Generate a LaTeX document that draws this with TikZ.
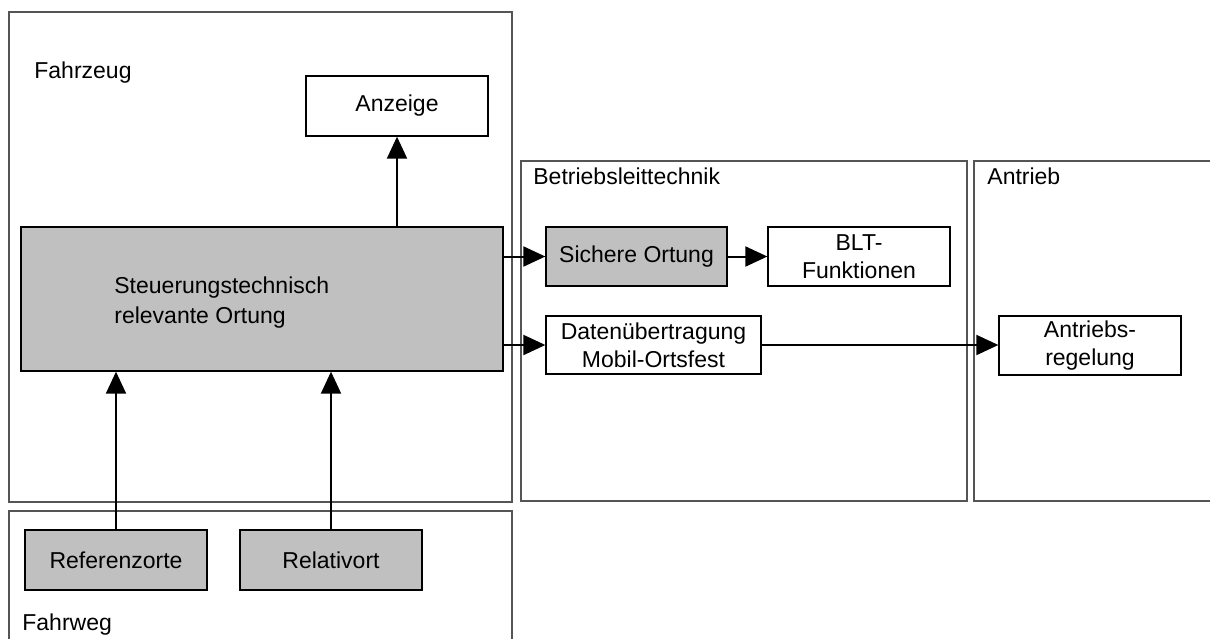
\documentclass[tikz,border=0pt]{standalone}
\usepackage{fontspec}
\setmainfont{Liberation Sans}
\usetikzlibrary{arrows.meta,positioning}
\definecolor{OrtGray}{RGB}{192,192,192}
\definecolor{FrameGray}{RGB}{85,85,85}

\begin{document}
\begin{tikzpicture}[
x=0.5pt,y=-0.5pt,
Areas/.style={draw=FrameGray,line width=0.75pt},
Blocks/.style={draw=black,line width=0.65pt,minimum width=91pt,minimum height=29.5pt,align=center,inner sep=0pt},
GrayBlocks/.style={Blocks,fill=OrtGray},
Flows/.style={-{Triangle[length=11pt,width=10pt]},line width=1pt},
AreaLabels/.style={anchor=base west,inner sep=0pt},
every node/.style={font=\fontsize{11.5}{14}\selectfont}
]
\useasboundingbox (0,0) rectangle (1210,638);
\clip (0,0) rectangle (1210,638);

% areas
\draw[Areas] (9,12) rectangle (512,502);
\draw[Areas] (9,511) rectangle (512,700);
\draw[Areas] (521,161) rectangle (967,501);
\draw[Areas] (974,161) rectangle (1260,501);

\node[AreaLabels] (fahrzeug) at (34,78) {Fahrzeug};
\node[AreaLabels] (fahrweg) at (22,630) {Fahrweg};
\node[AreaLabels] (blt) at (533,184) {Betriebsleittechnik};
\node[AreaLabels] (antrieb) at (987,184) {Antrieb};

% blocks
\node[Blocks, minimum height=30pt] (anzeige) at (397,106) {Anzeige};
\node[GrayBlocks, minimum width=241pt, minimum height=72pt] (steuer) at (262,299) {};
\node[anchor=west, align=left, inner sep=0pt, font=\fontsize{11.5}{15}\selectfont] (steuertext) at (114,303) {Steuerungstechnisch\\relevante Ortung};
\node[GrayBlocks, minimum height=30pt] (referenz) at (116,560) {Referenzorte};
\node[GrayBlocks, minimum height=30pt] (relativ) at (331,560) {Relativort};

\node[GrayBlocks, minimum width=90.5pt] (sichere) at (636.5,256.5) {Sichere Ortung};
\node[Blocks] (bltf) at (859,256.5) {BLT-\\Funktionen};
\node[Blocks, minimum width=107.5pt, minimum height=29pt] (daten) at (653.5,345) {Datenübertragung\\Mobil-Ortsfest};
\node[Blocks] (antrreg) at (1090,345.5) {Antriebs-\\regelung};

% connectors
\draw[Flows] (steuer.north -| anzeige.south) -- (anzeige.south);
\draw[Flows] (referenz.north) -- (referenz.north |- steuer.south);
\draw[Flows] (relativ.north) -- (relativ.north |- steuer.south);
\draw[Flows] (steuer.east |- sichere.west) -- (sichere.west);
\draw[Flows] (steuer.east |- daten.west) -- (daten.west);
\draw[Flows] (sichere.east) -- (bltf.west);
\draw[Flows] (daten.east) -- (daten.east -| antrreg.west);

\end{tikzpicture}
\end{document}
